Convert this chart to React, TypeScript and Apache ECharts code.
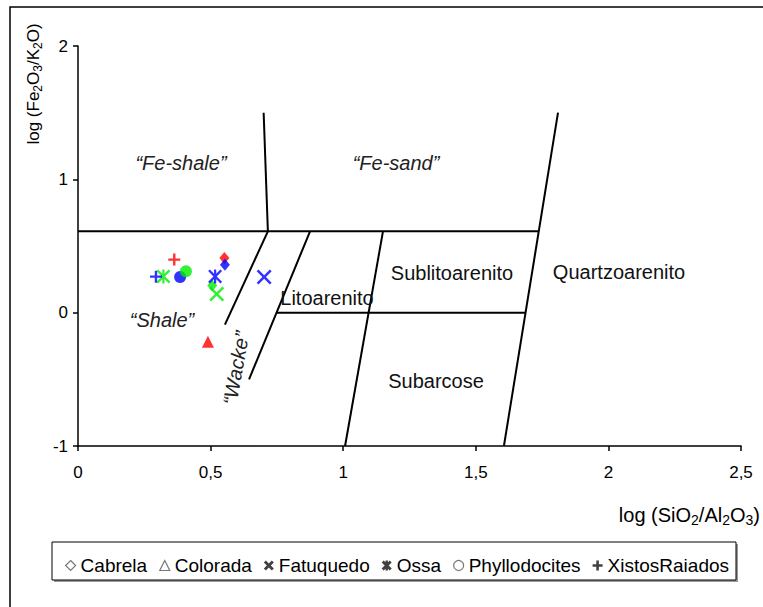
import React, { useEffect, useRef } from 'react';
import * as echarts from 'echarts';

// ---------- data ----------
const seriesNames = ['Cabrela', 'Colorada', 'Fatuquedo', 'Ossa', 'Phyllodocites', 'XistosRaiados'];

// [log(SiO2/Al2O3), log(Fe2O3/K2O)]
const cabrela = [[0.552, 0.41], [0.554, 0.36], [0.506, 0.203]];
const cabrelaGroup = ['R', 'B', 'G'];
const colorada = [[0.49, -0.218]];
const coloradaGroup = ['R'];
const fatuquedo = [[0.702, 0.268], [0.523, 0.14]];
const fatuquedoGroup = ['B', 'G'];
const ossa = [[0.322, 0.272], [0.517, 0.272]];
const ossaGroup = ['G', 'B'];
const phyllodocites = [[0.385, 0.268], [0.407, 0.31]];
const phyllodocitesGroup = ['B', 'G'];
const xistosRaiados = [[0.294, 0.27], [0.363, 0.398]];
const xistosRaiadosGroup = ['B', 'R'];

// classification field boundaries (Herron diagram)
const bFeHorizontal = [[0, 0.61], [1.737, 0.61]];
const bFeShaleSand = [[0.70, 1.5], [0.716, 0.61]];
const bShaleWacke = [[0.716, 0.61], [0.554, -0.09]];
const bWackeLith = [[0.875, 0.61], [0.645, -0.5]];
const bLithSublith = [[0.75, 0], [1.688, 0]];
const bSublithSubark = [[1.15, 0.61], [1.007, -1]];
const bQuartz = [[1.81, 1.5], [1.606, -1]];
const boundaries = [bFeHorizontal, bFeShaleSand, bShaleWacke, bWackeLith, bLithSublith, bSublithSubark, bQuartz];

const xMin = 0, xMax = 2.5, xStep = 0.5;
const yMin = -1, yMax = 2, yStep = 1;

// ---------- styling ----------
const FONT = 'Liberation Sans, Arial, sans-serif';
const groupColor: Record<string, string> = { R: '#ff0000', B: '#0000ff', G: '#00ee00' };

const X_PATH = 'path://M0,1.2 L1.2,0 L5,3.8 L8.8,0 L10,1.2 L6.2,5 L10,8.8 L8.8,10 L5,6.2 L1.2,10 L0,8.8 L3.8,5 Z';
const STAR_PATH = 'path://M0,1.2 L1.2,0 L5,3.8 L8.8,0 L10,1.2 L6.2,5 L10,8.8 L8.8,10 L5,6.2 L1.2,10 L0,8.8 L3.8,5 Z M4.2,0 L5.8,0 L5.8,10 L4.2,10 Z';
const PLUS_PATH = 'path://M4,0 L6,0 L6,4 L10,4 L10,6 L6,6 L6,10 L4,10 L4,6 L0,6 L0,4 L4,4 Z';
// bolder variants for the legend keys
const X_BOLD = 'path://M0,2 L2,0 L5,3 L8,0 L10,2 L7,5 L10,8 L8,10 L5,7 L2,10 L0,8 L3,5 Z';
const STAR_BOLD = 'path://M0,2 L2,0 L5,3 L8,0 L10,2 L7,5 L10,8 L8,10 L5,7 L2,10 L0,8 L3,5 Z M3.8,0 L6.2,0 L6.2,10 L3.8,10 Z';
const PLUS_BOLD = 'path://M3.7,0 L6.3,0 L6.3,3.7 L10,3.7 L10,6.3 L6.3,6.3 L6.3,10 L3.7,10 L3.7,6.3 L0,6.3 L0,3.7 L3.7,3.7 Z';

const seriesSpec = [
  { data: cabrela, group: cabrelaGroup, symbol: 'diamond', size: [10, 12] },
  { data: colorada, group: coloradaGroup, symbol: 'triangle', size: 12 },
  { data: fatuquedo, group: fatuquedoGroup, symbol: X_PATH, size: 15 },
  { data: ossa, group: ossaGroup, symbol: STAR_PATH, size: 14 },
  { data: phyllodocites, group: phyllodocitesGroup, symbol: 'circle', size: 12 },
  { data: xistosRaiados, group: xistosRaiadosGroup, symbol: PLUS_PATH, size: 12 },
];

const legendIcons = [
  { icon: 'diamond', itemStyle: { color: '#ffffff', borderColor: '#555', borderWidth: 1.2 } },
  { icon: 'triangle', itemStyle: { color: '#ffffff', borderColor: '#555', borderWidth: 1.2 } },
  { icon: X_BOLD, itemStyle: { color: '#111', borderWidth: 0 } },
  { icon: STAR_BOLD, itemStyle: { color: '#111', borderWidth: 0 } },
  { icon: 'circle', itemStyle: { color: '#ffffff', borderColor: '#555', borderWidth: 1.2 } },
  { icon: PLUS_BOLD, itemStyle: { color: '#111', borderWidth: 0 } },
];

export default function App() {
  const ref = useRef<HTMLDivElement>(null);

  useEffect(() => {
    if (!ref.current) return;
    const chart = echarts.init(ref.current, undefined, { renderer: 'svg' });

    const lineSeries = boundaries.map((b) => ({
      type: 'line',
      data: b,
      symbol: 'none',
      silent: true,
      lineStyle: { color: '#000', width: 2 },
      z: 2,
      animation: false,
    }));

    const scatterSeries = seriesSpec.map((s, i) => ({
      name: seriesNames[i],
      type: 'scatter',
      symbol: s.symbol,
      symbolSize: s.size,
      z: 5,
      data: s.data.map((v, j) => ({ value: v, itemStyle: { color: groupColor[s.group[j]] } })),
      itemStyle: { color: '#555' },
    }));

    const italic = { fontFamily: FONT, fontSize: 20, fontStyle: 'italic', fill: '#222' };
    const plain = { fontFamily: FONT, fontSize: 20, fill: '#111' };

    const option: any = {
      animation: false,
      backgroundColor: '#ffffff',
      grid: { left: 78, right: 22, top: 46, bottom: 161 },
      xAxis: {
        type: 'value',
        min: xMin,
        max: xMax,
        interval: xStep,
        splitLine: { show: false },
        axisLine: { onZero: false, lineStyle: { color: '#000', width: 1.5 } },
        axisTick: { length: 5, lineStyle: { color: '#000', width: 1.5 } },
        axisLabel: {
          color: '#000',
          fontFamily: FONT,
          fontSize: 17,
          margin: 18,
          formatter: (v: number) => String(v).replace('.', ','),
        },
      },
      yAxis: {
        type: 'value',
        min: yMin,
        max: yMax,
        interval: yStep,
        splitLine: { show: false },
        axisLine: { show: true, onZero: false, lineStyle: { color: '#000', width: 1.5 } },
        axisTick: { show: true, length: 5, lineStyle: { color: '#000', width: 1.5 } },
        axisLabel: { color: '#000', fontFamily: FONT, fontSize: 17, margin: 10 },
      },
      legend: {
        data: seriesNames.map((n, i) => ({ name: n, ...legendIcons[i] })),
        left: 60,
        top: 551,
        itemWidth: 10,
        itemHeight: 10,
        itemGap: 12,
        textStyle: { fontFamily: FONT, fontSize: 19, color: '#000' },
        selectedMode: false,
      },
      graphic: [
        // outer frame
        { type: 'rect', shape: { x: 10, y: 7, width: 800, height: 700 }, style: { fill: 'none', stroke: '#000', lineWidth: 1.5 }, z: 0, silent: true },
        // legend frame with shadow
        { type: 'rect', shape: { x: 54, y: 544, width: 684, height: 38 }, style: { fill: '#999', stroke: 'none' }, z: 0, silent: true },
        { type: 'rect', shape: { x: 52, y: 542, width: 684, height: 38 }, style: { fill: '#fff', stroke: '#000', lineWidth: 1 }, z: 1, silent: true },
        // axis titles
        {
          type: 'text',
          right: 3,
          top: 505,
          z: 10,
          style: {
            text: '{a|log (SiO}{s|2}{a|/Al}{s|2}{a|O}{s|3}{a|)}',
            fill: '#000',
            rich: {
              a: { fontFamily: FONT, fontSize: 20, fill: '#000' },
              s: { fontFamily: FONT, fontSize: 14, fill: '#000', padding: [10, 0, 0, 0] },
            },
          },
        },
        {
          type: 'text',
          x: 33,
          y: 84,
          rotation: Math.PI / 2,
          z: 10,
          style: {
            text: '{a|log (Fe}{s|2}{a|O}{s|3}{a|/K}{s|2}{a|O)}',
            align: 'center',
            verticalAlign: 'middle',
            fill: '#000',
            rich: {
              a: { fontFamily: FONT, fontSize: 17, fill: '#000' },
              s: { fontFamily: FONT, fontSize: 12, fill: '#000', padding: [9, 0, 0, 0] },
            },
          },
        },
        // field labels
        { type: 'text', x: 181, y: 163, z: 10, style: { ...italic, text: '\u201CFe-shale\u201D', align: 'center', verticalAlign: 'middle' } },
        { type: 'text', x: 396, y: 163, z: 10, style: { ...italic, text: '\u201CFe-sand\u201D', align: 'center', verticalAlign: 'middle' } },
        { type: 'text', x: 162, y: 320, z: 10, style: { ...italic, text: '\u201CShale\u201D', align: 'center', verticalAlign: 'middle' } },
        { type: 'text', x: 236, y: 368, rotation: (80 * Math.PI) / 180, z: 10, style: { ...italic, text: '\u201CWacke\u201D', align: 'center', verticalAlign: 'middle' } },
        { type: 'text', x: 327, y: 298, z: 10, style: { ...plain, text: 'Litoarenito', align: 'center', verticalAlign: 'middle' } },
        { type: 'text', x: 452, y: 273, z: 10, style: { ...plain, text: 'Sublitoarenito', align: 'center', verticalAlign: 'middle' } },
        { type: 'text', x: 619, y: 272, z: 10, style: { ...plain, text: 'Quartzoarenito', align: 'center', verticalAlign: 'middle' } },
        { type: 'text', x: 436, y: 381, z: 10, style: { ...plain, text: 'Subarcose', align: 'center', verticalAlign: 'middle' } },
      ],
      series: [...lineSeries, ...scatterSeries],
    };

    chart.setOption(option);
    return () => chart.dispose();
  }, []);

  return (
    <div
      ref={ref}
      style={{ position: 'fixed', left: 0, top: 0, width: 763, height: 607, background: '#fff' }}
    />
  );
}
